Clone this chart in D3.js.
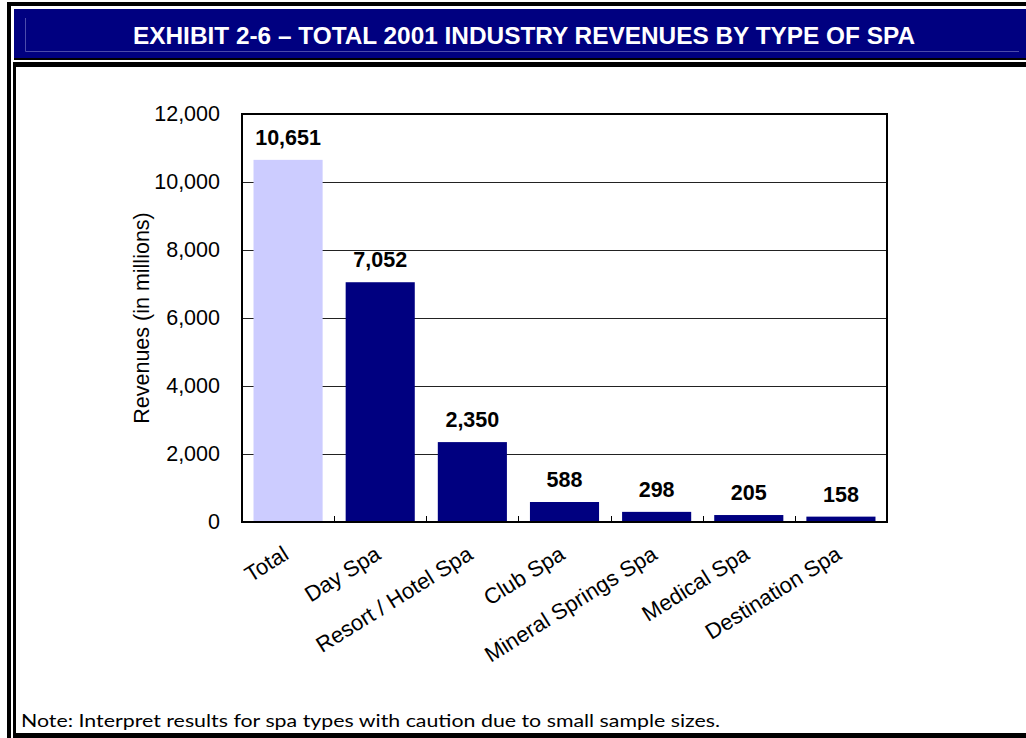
<!DOCTYPE html>
<html>
<head>
<meta charset="utf-8">
<script src="https://cdn.jsdelivr.net/npm/d3@7"></script>
<style>
  html, body { margin: 0; padding: 0; background: #fff; }
  svg { display: block; }
</style>
</head>
<body>
<svg id="chart" width="1026" height="738"></svg>
<script>
// Revenues (in millions) by spa type, 2001
const categories = ["Total", "Day Spa", "Resort / Hotel Spa", "Club Spa",
  "Mineral Springs Spa", "Medical Spa", "Destination Spa"];
const revenues = [10651, 7052, 2350, 588, 298, 205, 158];
const yTicks = [0, 2000, 4000, 6000, 8000, 10000, 12000];

const svg = d3.select("#chart");
const navy = "#000080";

// ---- page frame ----
svg.append("rect").attr("x", 7).attr("y", 2).attr("width", 1019).attr("height", 4).attr("fill", "#000");
svg.append("rect").attr("x", 7).attr("y", 2).attr("width", 4).attr("height", 736).attr("fill", "#000");
svg.append("rect").attr("x", 14).attr("y", 9).attr("width", 1012).attr("height", 49).attr("fill", navy);
svg.append("rect").attr("x", 14).attr("y", 58).attr("width", 1012).attr("height", 2).attr("fill", "#000");
svg.append("rect").attr("x", 13).attr("y", 62).attr("width", 1013).attr("height", 5).attr("fill", "#000");
svg.append("rect").attr("x", 13).attr("y", 62).attr("width", 3).attr("height", 676).attr("fill", "#000");
svg.append("rect").attr("x", 13).attr("y", 733).attr("width", 1013).attr("height", 5).attr("fill", "#000");
// inset line inside the header band
svg.append("path")
  .attr("d", "M25.5,18 V51.5 H1019")
  .attr("fill", "none").attr("stroke", "#4b4bab").attr("stroke-width", 1);

svg.append("text")
  .attr("x", 524).attr("y", 44)
  .attr("text-anchor", "middle")
  .attr("fill", "#fff")
  .attr("font-family", "'Liberation Sans', Arial, sans-serif")
  .attr("font-size", 24)
  .attr("font-weight", "bold")
  .attr("textLength", 782)
  .attr("lengthAdjust", "spacingAndGlyphs")
  .text("EXHIBIT 2-6 \u2013 TOTAL 2001 INDUSTRY REVENUES BY TYPE OF SPA");

svg.append("text")
  .attr("x", 21).attr("y", 727)
  .attr("fill", "#000")
  .attr("font-family", "Lato, 'Open Sans', sans-serif")
  .attr("font-size", 17)
  .attr("textLength", 699)
  .attr("lengthAdjust", "spacingAndGlyphs")
  .text("Note: Interpret results for spa types with caution due to small sample sizes.");

// ---- chart ----
const plot = { left: 242, top: 114, right: 887, bottom: 522 };
const x = d3.scaleBand().domain(categories).range([plot.left, plot.right]).paddingInner(0.25).paddingOuter(0.125);
const y = d3.scaleLinear().domain([0, 12000]).range([plot.bottom, plot.top]);
const font = "'Liberation Sans', Arial, sans-serif";
const fs = 21.5;

// gridlines
svg.append("g")
  .selectAll("line").data(yTicks.filter(t => t > 0 && t < 12000)).join("line")
  .attr("x1", plot.left).attr("x2", plot.right)
  .attr("y1", d => Math.round(y(d)) + 0.5).attr("y2", d => Math.round(y(d)) + 0.5)
  .attr("stroke", "#222").attr("stroke-width", 1.2);

// bars
svg.append("g")
  .selectAll("rect").data(revenues).join("rect")
  .attr("x", (d, i) => x(categories[i]))
  .attr("width", x.bandwidth())
  .attr("y", d => y(d))
  .attr("height", d => y(0) - y(d))
  .attr("fill", (d, i) => i === 0 ? "#ccccff" : navy);

// value labels
svg.append("g")
  .selectAll("text").data(revenues).join("text")
  .attr("x", (d, i) => x(categories[i]) + x.bandwidth() / 2)
  .attr("y", d => y(d) - 15)
  .attr("text-anchor", "middle")
  .attr("font-family", font).attr("font-size", fs).attr("font-weight", "bold")
  .attr("fill", "#000")
  .text(d => d3.format(",")(d));

// y axis labels
const yAxis = d3.axisLeft(y).tickValues(yTicks).tickFormat(d3.format(",")).tickSize(0).tickPadding(22);
svg.append("g")
  .attr("transform", `translate(${plot.left},0)`)
  .call(yAxis)
  .call(g => g.select(".domain").remove())
  .call(g => g.selectAll("text").attr("font-family", font).attr("font-size", fs).attr("fill", "#000"));

// x category ticks (inside, between bars)
const step = x.step();
const boundaries = categories.slice(1).map(c => x(c) - (step - x.bandwidth()) / 2);
svg.append("g")
  .selectAll("line").data(boundaries).join("line")
  .attr("x1", d => Math.round(d) + 0.5).attr("x2", d => Math.round(d) + 0.5)
  .attr("y1", plot.bottom).attr("y2", plot.bottom - 6)
  .attr("stroke", "#000").attr("stroke-width", 1);

// x axis labels
const xAxis = d3.axisBottom(x).tickSize(0).tickPadding(0);
svg.append("g")
  .attr("transform", `translate(0,${plot.bottom})`)
  .call(xAxis)
  .call(g => g.select(".domain").remove())
  .call(g => g.selectAll("text")
    .attr("font-family", font).attr("font-size", 22).attr("fill", "#000")
    .attr("text-anchor", "end")
    .attr("dy", null).attr("y", 0)
    .attr("transform", "translate(2,36) rotate(-32)"));

// plot border
svg.append("rect")
  .attr("x", plot.left).attr("y", plot.top)
  .attr("width", plot.right - plot.left).attr("height", plot.bottom - plot.top)
  .attr("fill", "none").attr("stroke", "#000").attr("stroke-width", 2);

// axis title
svg.append("text")
  .attr("transform", `translate(149,${(plot.top + plot.bottom) / 2}) rotate(-90)`)
  .attr("text-anchor", "middle")
  .attr("font-family", font).attr("font-size", fs).attr("fill", "#000")
  .text("Revenues (in millions)");
</script>
</body>
</html>
